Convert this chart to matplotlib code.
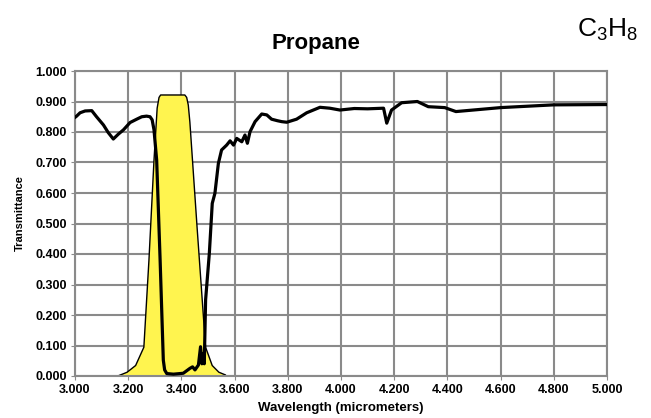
import matplotlib.pyplot as plt
import numpy as np

# propane transmittance spectrum
wl = [3.000, 3.006, 3.019, 3.038, 3.063, 3.081, 3.107, 3.125, 3.144, 3.163, 3.182,
      3.207, 3.232, 3.251, 3.269, 3.282, 3.290, 3.297,
      3.307, 3.320, 3.332, 3.337, 3.345, 3.370, 3.407, 3.432, 3.442, 3.451, 3.464, 3.472,
      3.477, 3.482, 3.486, 3.491, 3.505, 3.516, 3.526, 3.539, 3.551, 3.570, 3.583,
      3.596, 3.608, 3.627, 3.639, 3.648, 3.658, 3.677, 3.702, 3.721, 3.739, 3.761,
      3.777, 3.796, 3.833, 3.871, 3.921, 3.958, 3.996, 4.050, 4.100, 4.160, 4.172,
      4.190, 4.228, 4.287, 4.328, 4.390, 4.432, 4.600, 4.800, 5.000]
trans = [0.848, 0.852, 0.863, 0.869, 0.870, 0.850, 0.823, 0.798, 0.777, 0.793, 0.807,
         0.831, 0.842, 0.850, 0.852, 0.850, 0.840, 0.807,
         0.708, 0.380, 0.052, 0.020, 0.008, 0.006, 0.009, 0.025, 0.030, 0.020, 0.036, 0.096,
         0.040, 0.074, 0.040, 0.250, 0.402, 0.566, 0.599, 0.697, 0.741, 0.757, 0.771,
         0.757, 0.779, 0.768, 0.790, 0.763, 0.801, 0.834, 0.859, 0.856, 0.842, 0.837,
         0.834, 0.832, 0.842, 0.863, 0.881, 0.878, 0.872, 0.877, 0.876, 0.878, 0.829,
         0.872, 0.896, 0.900, 0.883, 0.880, 0.867, 0.880, 0.889, 0.890]

# filter passband (yellow)
filt_wl = [3.163, 3.194, 3.226, 3.257, 3.276, 3.295, 3.307, 3.314, 3.320, 3.411, 3.418,
           3.424, 3.430, 3.457, 3.489, 3.514, 3.539, 3.564]
filt_t = [0.003, 0.014, 0.036, 0.096, 0.380, 0.708, 0.880, 0.915, 0.923, 0.923, 0.915,
          0.890, 0.834, 0.490, 0.096, 0.036, 0.014, 0.005]

xticks = np.arange(3.0, 5.001, 0.2)
yticks = np.arange(0.0, 1.001, 0.1)

plt.rcParams['font.family'] = ['Liberation Sans', 'DejaVu Sans']

fig = plt.figure(figsize=(6.51, 4.18), dpi=100)
ax = fig.add_axes([75/651, 1 - 376/418, 532/651, 305/418])

ax.fill_between(filt_wl, filt_t, 0, color='#fff44f', edgecolor='black', linewidth=1.0, zorder=2)
ax.plot(wl, trans, color='black', linewidth=2.3, zorder=3, solid_joinstyle='round')

ax.set_xlim(3.0, 5.0)
ax.set_ylim(0.0, 1.0)
ax.set_xticks(xticks)
ax.set_yticks(yticks)
ax.set_xticklabels(['%.3f' % v for v in xticks], fontsize=9, fontweight='bold')
ax.set_yticklabels(['%.3f' % v for v in yticks], fontsize=9, fontweight='bold')
ax.grid(True, color='#8a8a8a', linewidth=1.5, zorder=1)
ax.set_axisbelow(True)
for s in ax.spines.values():
    s.set_color('#8a8a8a')
    s.set_linewidth(1.5)
ax.tick_params(axis='both', length=3, color='#8a8a8a', pad=3)

ax.set_xlabel('Wavelength (micrometers)', fontsize=9.5, fontweight='bold', labelpad=4)
ax.set_ylabel('Transmittance', fontsize=8, fontweight='bold')
ax.yaxis.set_label_coords(-0.094, 0.535)
fig.text(316/651, 1 - 44/418, 'Propane', ha='center', va='center', fontsize=16, fontweight='bold')
fig.text(608/651, 1 - 30/418, r'$\mathregular{C_3H_8}$', ha='center', va='center', fontsize=19)

fig.savefig('out.png', dpi=100)
